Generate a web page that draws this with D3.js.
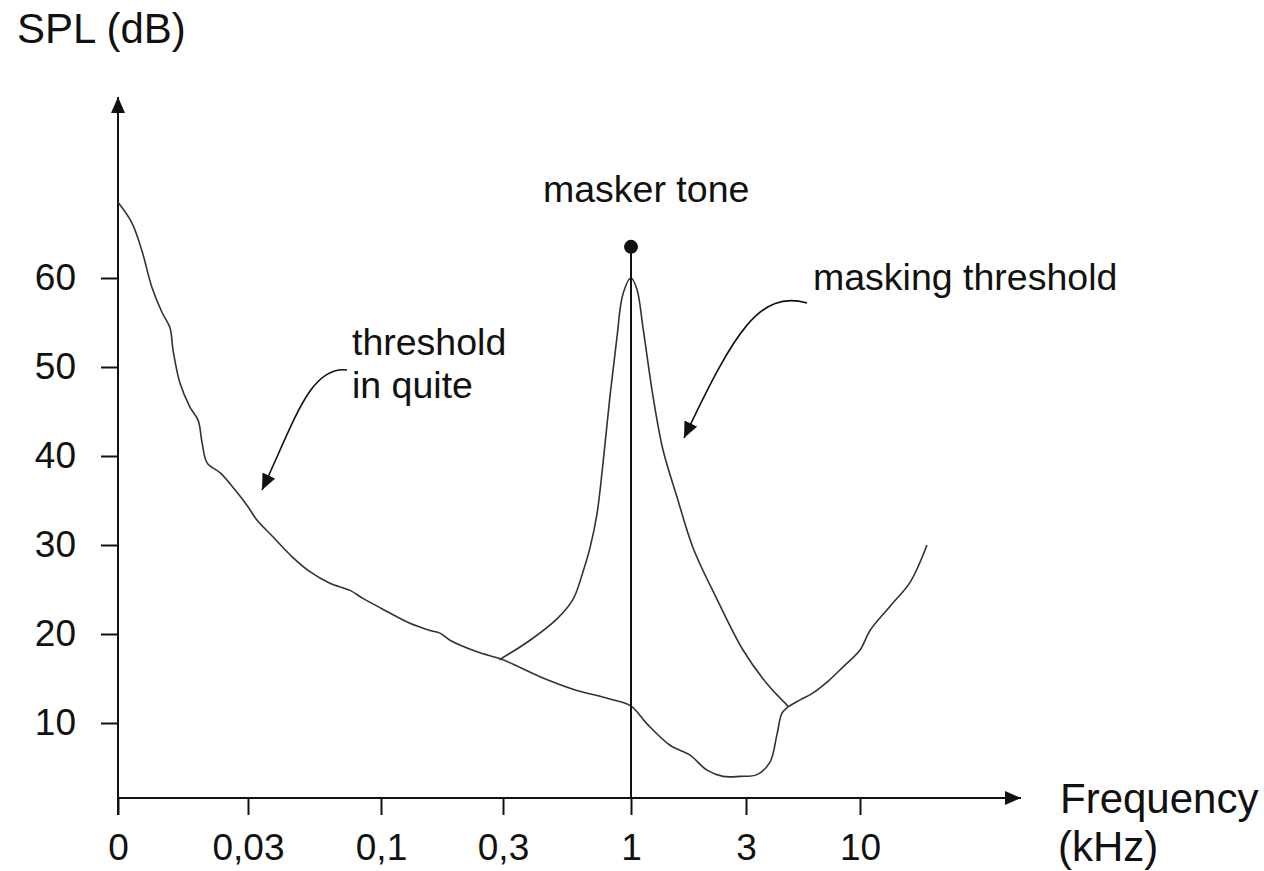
<!DOCTYPE html>
<html>
<head>
<meta charset="utf-8">
<script src="https://cdn.jsdelivr.net/npm/d3@7"></script>
<style>
  html, body { margin: 0; padding: 0; background: #fff; }
  svg { display: block; }
  text { font-family: Arial, "Liberation Sans", sans-serif; fill: #111; }
</style>
</head>
<body>
<svg id="chart" width="1264" height="871"></svg>
<script>
// ---- data ----
const freqTicks = [0, 0.03, 0.1, 0.3, 1, 3, 10];
const freqTickLabels = ["0", "0,03", "0,1", "0,3", "1", "3", "10"];
const splTicks = [10, 20, 30, 40, 50, 60];

// threshold in quiet (kHz, dB)
const quietFreq = [0, 0.0032, 0.0055, 0.0078, 0.0102, 0.0120, 0.0127, 0.0143, 0.0166, 0.0185, 0.0194, 0.0206,
  0.0236, 0.0270, 0.030, 0.0347, 0.0432, 0.0531, 0.0626, 0.0731, 0.0837, 0.0905, 0.100, 0.1475, 0.1803,
  0.1967, 0.2131, 0.2574, 0.300, 0.502, 0.683, 0.885, 1.0, 1.278, 1.678, 2.026, 2.322, 2.60, 2.896, 3.675,
  4.474, 4.90, 5.21, 5.58, 6.32, 7.05, 8.10, 8.96, 10.0, 11.74, 15.2, 18.7, 21.65];
const quietSPL = [68.5, 66.2, 63.1, 59.0, 56.1, 54.4, 51.9, 48.2, 45.5, 44.0, 41.5, 39.2,
  38.1, 36.2, 34.3, 32.8, 30.9, 28.7, 27.0, 25.7, 24.9, 24.0, 22.9, 21.2, 20.4,
  20.1, 19.3, 18.0, 17.1, 15.2, 13.8, 12.7, 11.9, 9.9, 7.5, 6.4, 4.7, 4.0, 4.0, 4.2,
  5.6, 8.7, 11.1, 11.8, 12.6, 13.3, 14.8, 16.3, 18.2, 20.4, 23.1, 25.8, 30.0];

// masking threshold (kHz, dB)
const maskFreq = [0.294, 0.448, 0.595, 0.683, 0.7375, 0.776, 0.814, 0.847, 0.885, 0.923, 0.956, 1.0,
  1.104, 1.209, 1.383, 1.556, 1.80, 2.078, 2.496, 2.948, 4.29, 5.58];
const maskSPL = [17.1, 19.3, 21.7, 23.9, 27.0, 29.7, 33.5, 39.2, 46.7, 53.3, 58.2, 60.0,
  58.7, 54.4, 46.7, 40.7, 35.4, 29.7, 23.9, 18.2, 14.4, 11.9];

const maskerFreq = 1;
const maskerSPL = 63.5;

// ---- layout ----
const svg = d3.select("#chart");
const axisY0 = 798;   // x-axis line
const axisX0 = 118;   // y-axis line
const tickLen = 17;

const x = d3.scaleLinear()
  .domain([0, 0.03, 0.1, 0.3, 1, 3, 10, 30])
  .range([118, 248, 381, 503, 631, 746, 860, 975]);
const y = d3.scaleLinear().domain([10, 60]).range([723, 278]);

const ink = "#111";

// arrow markers
const defs = svg.append("defs");
["axisArrow", "noteArrow"].forEach(id => {
  defs.append("marker").attr("id", id)
    .attr("viewBox", "0 0 16 14").attr("refX", 16).attr("refY", 7)
    .attr("markerUnits", "userSpaceOnUse")
    .attr("markerWidth", 16).attr("markerHeight", 14).attr("orient", "auto")
    .append("path").attr("d", "M0,0 L16,7 L0,14 Z").attr("fill", ink);
});

// axis lines with arrows
svg.append("line")
  .attr("x1", axisX0).attr("y1", axisY0 + tickLen)
  .attr("x2", axisX0).attr("y2", 97)
  .attr("stroke", ink).attr("stroke-width", 2)
  .attr("marker-end", "url(#axisArrow)");
svg.append("line")
  .attr("x1", axisX0).attr("y1", axisY0)
  .attr("x2", 1021).attr("y2", axisY0)
  .attr("stroke", ink).attr("stroke-width", 2)
  .attr("marker-end", "url(#axisArrow)");

// y axis ticks
const yAxis = d3.axisLeft(y).tickValues(splTicks).tickSize(tickLen).tickPadding(25);
const gy = svg.append("g").attr("transform", `translate(${axisX0},0)`).call(yAxis);
gy.select(".domain").remove();
gy.selectAll(".tick line").attr("stroke", ink).attr("stroke-width", 2);
gy.selectAll(".tick text").attr("font-size", 37).attr("fill", ink)
  .style("font-family", "Arial, 'Liberation Sans', sans-serif");

// x axis ticks
const xAxis = d3.axisBottom(x).tickValues(freqTicks)
  .tickFormat((d, i) => freqTickLabels[i]).tickSize(tickLen).tickPadding(19);
const gx = svg.append("g").attr("transform", `translate(0,${axisY0})`).call(xAxis);
gx.select(".domain").remove();
gx.selectAll(".tick line").attr("stroke", ink).attr("stroke-width", 2);
gx.selectAll(".tick text").attr("font-size", 37).attr("fill", ink)
  .style("font-family", "Arial, 'Liberation Sans', sans-serif");

// curves
const line = d3.line().x(d => x(d[0])).y(d => y(d[1])).curve(d3.curveCatmullRom.alpha(0.5));
const quiet = quietFreq.map((f, i) => [f, quietSPL[i]]);
const mask = maskFreq.map((f, i) => [f, maskSPL[i]]);

svg.append("path").datum(quiet).attr("d", line)
  .attr("fill", "none").attr("stroke", "#333").attr("stroke-width", 1.6);
svg.append("path").datum(mask).attr("d", line)
  .attr("fill", "none").attr("stroke", "#333").attr("stroke-width", 1.6);

// masker tone
svg.append("line")
  .attr("x1", x(maskerFreq)).attr("x2", x(maskerFreq))
  .attr("y1", axisY0).attr("y2", y(maskerSPL))
  .attr("stroke", ink).attr("stroke-width", 2);
svg.append("circle")
  .attr("cx", x(maskerFreq)).attr("cy", y(maskerSPL)).attr("r", 7).attr("fill", ink);

// texts
const addText = (t, xp, yp, size) => svg.append("text")
  .attr("x", xp).attr("y", yp).attr("font-size", size).text(t);
addText("SPL (dB)", 17, 43, 42);
addText("Frequency", 1060, 813, 42);
addText("(kHz)", 1058, 861, 42);
addText("masker tone", 543, 202, 37.5);
addText("masking threshold", 813, 290, 37.5);
addText("threshold", 352, 355, 37.5);
addText("in quite", 352, 398, 37.5);

// annotation arrows
svg.append("path")
  .attr("d", "M347,370 C310,366 295,420 262,490")
  .attr("fill", "none").attr("stroke", ink).attr("stroke-width", 1.6)
  .attr("marker-end", "url(#noteArrow)");
svg.append("path")
  .attr("d", "M807,303 C760,290 735,330 684,438")
  .attr("fill", "none").attr("stroke", ink).attr("stroke-width", 1.6)
  .attr("marker-end", "url(#noteArrow)");
</script>
</body>
</html>
